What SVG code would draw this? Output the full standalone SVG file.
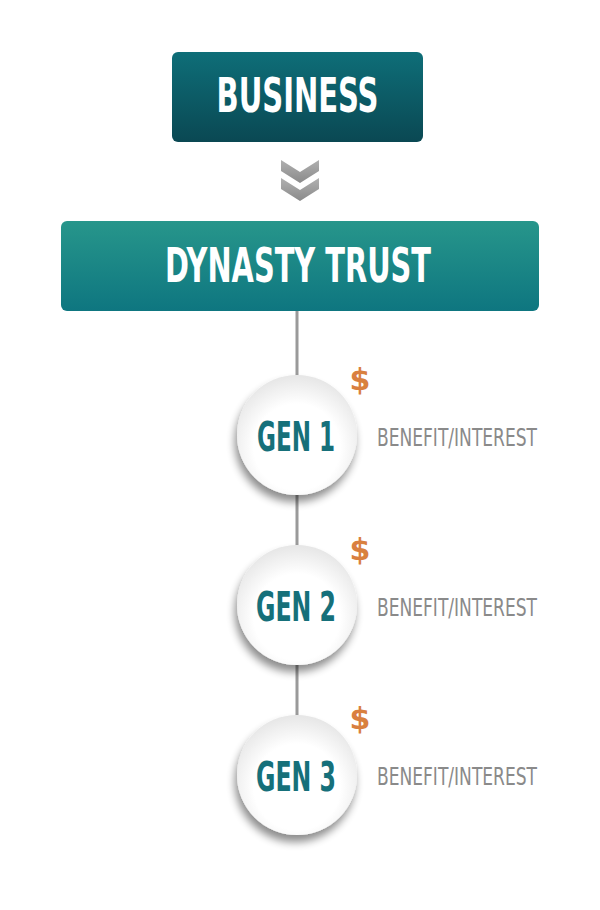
<svg xmlns="http://www.w3.org/2000/svg" width="600" height="910" viewBox="0 0 600 910">
<style>
.box-text{font-family:"DejaVu Sans Condensed","Liberation Sans",sans-serif;font-weight:bold;fill:#ffffff;font-size:48px;text-anchor:middle}
.gen{font-family:"DejaVu Sans Condensed","Liberation Sans",sans-serif;font-weight:bold;fill:#16707a;font-size:40px;text-anchor:middle}
.ben{font-family:"DejaVu Sans Condensed","Liberation Sans",sans-serif;fill:#8a8a8a;font-size:24px}
.dollar{font-family:"DejaVu Sans","Liberation Sans",sans-serif;font-weight:bold;fill:#d9803f;font-size:30px;text-anchor:middle}
</style>
<defs>
<linearGradient id="gBiz" x1="0" y1="0" x2="0" y2="1">
<stop offset="0" stop-color="#0e6e78"/><stop offset="1" stop-color="#0a4853"/>
</linearGradient>
<linearGradient id="gTrust" x1="0" y1="0" x2="0" y2="1">
<stop offset="0" stop-color="#27968b"/><stop offset="1" stop-color="#0e7680"/>
</linearGradient>
<linearGradient id="gChev" x1="0" y1="0" x2="0" y2="1">
<stop offset="0" stop-color="#b0b0b0"/><stop offset="1" stop-color="#8a8a8a"/>
</linearGradient>
<radialGradient id="gCircle" cx="0.5" cy="0.6" r="0.6">
<stop offset="0.6" stop-color="#ffffff"/><stop offset="1" stop-color="#e6e6e6"/>
</radialGradient>
<filter id="shadow" x="-30%" y="-30%" width="160%" height="170%">
<feGaussianBlur in="SourceAlpha" stdDeviation="4"/>
<feOffset dx="-2" dy="7" result="b"/>
<feComponentTransfer><feFuncA type="linear" slope="0.45"/></feComponentTransfer>
<feMerge><feMergeNode/><feMergeNode in="SourceGraphic"/></feMerge>
</filter>
</defs>
<rect width="600" height="910" fill="#ffffff"/>
<g id="connectors">
<line x1="297" y1="311" x2="297" y2="720" stroke="#9a9a9a" stroke-width="3"/>
<g id="chevrons" fill="url(#gChev)">
<polygon points="281,160 300,172 319,160 319,171 300,183 281,171"/>
<polygon points="281,178 300,190 319,178 319,189 300,201 281,189"/>
</g>
</g>
<g id="business">
<rect x="172" y="52" width="251" height="90" rx="6" fill="url(#gBiz)"/>
<text class="box-text" x="297.5" y="112" textLength="162" lengthAdjust="spacingAndGlyphs">BUSINESS</text>
</g>
<g id="dynasty-trust">
<rect x="61" y="221" width="478" height="90" rx="6" fill="url(#gTrust)"/>
<text class="box-text" x="298" y="282" textLength="266" lengthAdjust="spacingAndGlyphs">DYNASTY TRUST</text>
</g>
<g id="gen1">
<circle cx="297" cy="435" r="60" fill="url(#gCircle)" filter="url(#shadow)"/>
<text class="gen" x="296" y="451" textLength="78" lengthAdjust="spacingAndGlyphs">GEN 1</text>
<text class="dollar" x="360" y="390">$</text>
<text class="ben" x="377" y="446" textLength="160" lengthAdjust="spacingAndGlyphs">BENEFIT/INTEREST</text>
</g>
<g id="gen2">
<circle cx="297" cy="605" r="60" fill="url(#gCircle)" filter="url(#shadow)"/>
<text class="gen" x="296" y="621" textLength="80" lengthAdjust="spacingAndGlyphs">GEN 2</text>
<text class="dollar" x="360" y="560">$</text>
<text class="ben" x="377" y="616" textLength="160" lengthAdjust="spacingAndGlyphs">BENEFIT/INTEREST</text>
</g>
<g id="gen3">
<circle cx="297" cy="775" r="60" fill="url(#gCircle)" filter="url(#shadow)"/>
<text class="gen" x="296" y="791" textLength="80" lengthAdjust="spacingAndGlyphs">GEN 3</text>
<text class="dollar" x="360" y="729">$</text>
<text class="ben" x="377" y="785" textLength="160" lengthAdjust="spacingAndGlyphs">BENEFIT/INTEREST</text>
</g>
</svg>
